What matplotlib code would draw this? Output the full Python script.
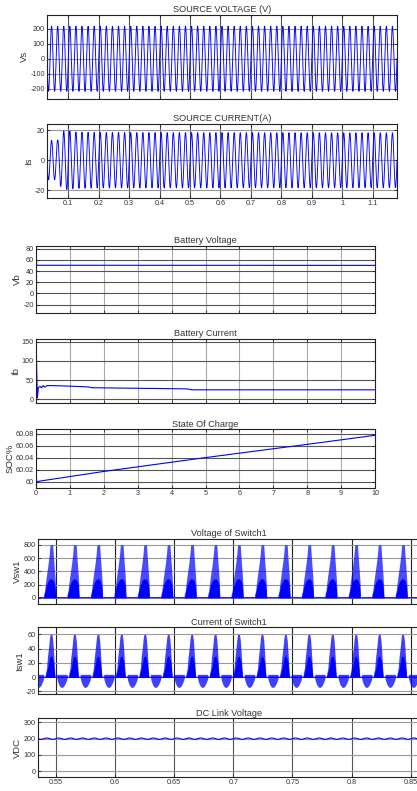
import numpy as np
import matplotlib
matplotlib.use("Agg")
import matplotlib.pyplot as plt

plt.rcParams['font.family'] = ['Liberation Sans', 'DejaVu Sans']
plt.rcParams['axes.unicode_minus'] = False

W, H = 417, 791
BLUE = '#0000ff'
TXT = '#333333'

# source side
line_freq = 50.0          # Hz, 5 peaks per 0.1 s
vs_peak = 218.0           # V
# source current half-cycle peak magnitudes (time of peak, |I|)
is_peak_t = [0.03, 0.045, 0.055, 0.065, 0.075, 0.085, 0.095, 0.105, 0.115, 0.125, 0.2, 1.18]
is_peak_a = [13.0, 13.3, 13.0, 13.5, 17.5, 19.5, 19.5, 19.5, 19.0, 18.8, 18.5, 18.3]

# battery side (0..10 s)
bv_t = [0, 0.02, 10]
bv_v = [80, 50.5, 50.3]
bi_t = [0, 0.04, 0.07, 0.12, 0.16, 0.21, 0.26, 0.33, 0.45, 1.0, 1.55, 1.65, 2.5, 3.5, 4.45, 4.6, 10]
bi_v = [150, 4, 31, 34, 30, 36, 32, 36, 36, 34.5, 32.5, 30.5, 29.5, 28.5, 27.5, 25, 25]
soc_t = [0, 2, 5, 8, 10]
soc_v = [60.0, 60.017, 60.040, 60.062, 60.077]

# switch waveforms, one 50 Hz period, knots in ms from the start of each pulse
sw_period = 0.0198
vsw_start = 0.5395
vsw_up_ms = [0, 0.4, 1.1, 1.7, 2.8, 4.0, 5.0, 5.7, 8.0, 8.6, 9.6, 10.2, 10.5, 19.8]
vsw_up_v = [0, 60, 100, 200, 350, 500, 650, 800, 800, 620, 380, 200, 0, 0]
vsw_core_ms = [0, 0.4, 1.5, 2.5, 4.0, 5.5, 7.5, 8.8, 9.8, 10.5, 19.8]
vsw_core_v = [0, 0, 100, 180, 250, 285, 285, 250, 170, 0, 0]

isw_start = 0.541
isw_up_ms = [0, 0.3, 1.2, 2.0, 3.0, 3.8, 4.3, 5.8, 6.5, 7.2, 7.9, 8.4, 9.8, 10.0, 18.6, 18.8, 19.8]
isw_up_a = [0, 5, 12, 28, 42, 56, 60, 60, 52, 35, 15, 0, 0, 4, 4, 0, 0]
isw_lo_ms = [0, 9.8, 10.5, 11.5, 12.8, 14.2, 15.6, 17.0, 18.2, 18.8, 19.8]
isw_lo_a = [0, 0, -5, -10, -13.5, -14.5, -13, -9, -4, 0, 0]
isw_core_ms = [0, 1.0, 2.5, 4.0, 5.5, 7.0, 8.4, 19.8]
isw_core_a = [0, 5, 15, 28, 30, 22, 0, 0]

vdc_level = 200.0
vdc_ripple = 4.0
vdc_ripple_freq = 100.0


def add_ax(fig, left, top, right, bottom):
    return fig.add_axes([left / W, 1 - bottom / H, (right - left) / W, (bottom - top) / H])


def style(ax, title, ylabel, xlim, ylim, xticks, yticks, xlabels=None, ylabels=None,
          vgrid='#555555', hgrid='#999999'):
    ax.set_xlim(xlim)
    ax.set_ylim(ylim)
    ax.set_xticks(xticks)
    ax.set_yticks(yticks)
    if xlabels is None:
        ax.set_xticklabels([])
    else:
        ax.set_xticklabels(xlabels)
    if ylabels is not None:
        ax.set_yticklabels(ylabels)
    ax.xaxis.grid(True, color=vgrid, lw=0.8)
    ax.yaxis.grid(True, color=hgrid, lw=0.8)
    ax.set_axisbelow(True)
    ax.tick_params(direction='in', length=2.5, width=0.6, labelsize=5.2, pad=1.5,
                   top=True, right=True, colors='#222222', labelcolor=TXT)
    for s in ax.spines.values():
        s.set_color('#222222')
        s.set_linewidth(0.8)
    ax.set_title(title, fontsize=6.6, pad=2, color=TXT)
    ax.set_ylabel(ylabel, fontsize=6.8, labelpad=1, color=TXT)


def periodic(t, start, knots_ms, vals):
    ph = np.mod(t - start, sw_period) * 1000.0
    return np.interp(ph, knots_ms, vals)


fig = plt.figure(figsize=(W / 100, H / 100), dpi=100)

# ---- source voltage ----
t_src = np.linspace(0.03, 1.18, 23000)
ax1 = add_ax(fig, 47, 15, 397, 98.5)
ax1.plot(t_src, vs_peak * np.sin(2 * np.pi * line_freq * t_src), color=BLUE, lw=0.65)
style(ax1, 'SOURCE VOLTAGE (V)', 'Vs', (0.03, 1.18), (-266, 293),
      np.arange(0.1, 1.15, 0.1), [-200, -100, 0, 100, 200])

# ---- source current ----
ax2 = add_ax(fig, 47, 124, 397, 197.7)
env = np.interp(t_src, is_peak_t, is_peak_a)
ax2.plot(t_src, env * np.sin(2 * np.pi * line_freq * t_src), color=BLUE, lw=0.65)
style(ax2, 'SOURCE CURRENT(A)', 'Is', (0.03, 1.18), (-25, 24.2),
      np.arange(0.1, 1.15, 0.1), [-20, 0, 20],
      xlabels=['0.1', '0.2', '0.3', '0.4', '0.5', '0.6', '0.7', '0.8', '0.9', '1', '1.1'])

# ---- battery voltage ----
ax3 = add_ax(fig, 36, 246, 375, 313)
ax3.plot(bv_t, bv_v, color=BLUE, lw=0.8)
style(ax3, 'Battery Voltage', 'Vb', (0, 10), (-35, 85), range(0, 11),
      [-20, 0, 20, 40, 60, 80], vgrid='#aaaaaa', hgrid='#555555')

# ---- battery current ----
ax4 = add_ax(fig, 36, 339, 375, 403.3)
ax4.plot(bi_t, bi_v, color=BLUE, lw=0.8)
style(ax4, 'Battery Current', 'Ib', (0, 10), (-10, 157), range(0, 11),
      [0, 50, 100, 150], vgrid='#aaaaaa', hgrid='#555555')

# ---- SOC ----
ax5 = add_ax(fig, 36, 429.3, 375, 487.7)
ax5.plot(soc_t, soc_v, color=BLUE, lw=0.8)
style(ax5, 'State Of Charge', 'SOC%', (0, 10), (59.99, 60.087), range(0, 11),
      [60, 60.02, 60.04, 60.06, 60.08], xlabels=[str(i) for i in range(11)],
      ylabels=['60', '60.02', '60.04', '60.06', '60.08'],
      vgrid='#aaaaaa', hgrid='#555555')

# ---- switch plots ----
t_sw = np.linspace(0.5348, 0.87, 30000)
sw_xticks = [0.55, 0.6, 0.65, 0.7, 0.75, 0.8, 0.85]
sw_xlim = (0.5348, 0.87)
right_px = 37.7 + (0.87 - 0.5348) * 1184
title_x = (229 - 37.7) / (right_px - 37.7)

ax6 = add_ax(fig, 37.7, 539, right_px, 604.3)
vup = periodic(t_sw, vsw_start, vsw_up_ms, vsw_up_v)
vcore = periodic(t_sw, vsw_start, vsw_core_ms, vsw_core_v)
ax6.fill_between(t_sw, 0, vup, color=BLUE, alpha=0.7, lw=0)
ax6.fill_between(t_sw, 0, vcore, color=BLUE, lw=0)
ax6.plot(t_sw, np.zeros_like(t_sw), color=BLUE, lw=0.8)
style(ax6, 'Voltage of Switch1', 'Vsw1', sw_xlim, (-100, 890), sw_xticks,
      [0, 200, 400, 600, 800], vgrid='#222222', hgrid='#999999')
ax6.title.set_position((title_x, 1))

ax7 = add_ax(fig, 37.7, 627.3, right_px, 694.3)
iup = periodic(t_sw, isw_start, isw_up_ms, isw_up_a)
ilo = periodic(t_sw, isw_start, isw_lo_ms, isw_lo_a)
icore = periodic(t_sw, isw_start, isw_core_ms, isw_core_a)
ax7.fill_between(t_sw, ilo, iup, color=BLUE, alpha=0.75, lw=0)
ax7.fill_between(t_sw, 0, icore, color=BLUE, lw=0)
ax7.plot(t_sw, np.zeros_like(t_sw), color=BLUE, lw=0.8)
style(ax7, 'Current of Switch1', 'Isw1', sw_xlim, (-24, 70), sw_xticks,
      [-20, 0, 20, 40, 60], vgrid='#222222', hgrid='#999999')
ax7.title.set_position((title_x, 1))

ax8 = add_ax(fig, 37.7, 718.3, right_px, 777.3)
vdc = vdc_level + vdc_ripple * np.sin(2 * np.pi * vdc_ripple_freq * t_sw)
ax8.plot(t_sw, vdc, color=BLUE, lw=0.8)
style(ax8, 'DC Link Voltage', 'VDC', sw_xlim, (-37, 325), sw_xticks,
      [0, 100, 200, 300], xlabels=['0.55', '0.6', '0.65', '0.7', '0.75', '0.8', '0.85'],
      vgrid='#555555', hgrid='#999999')
ax8.title.set_position((title_x, 1))

fig.savefig('out.png', dpi=100, facecolor='white')
